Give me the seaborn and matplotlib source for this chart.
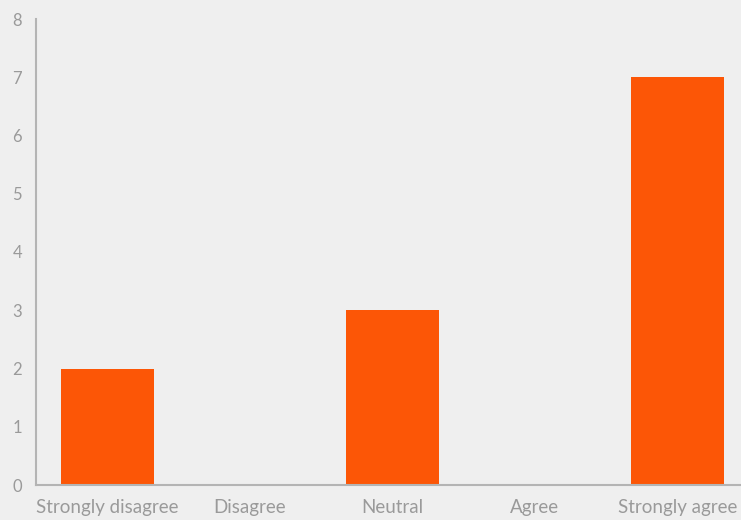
import matplotlib
matplotlib.use("Agg")
import matplotlib.pyplot as plt
import seaborn as sns
import pandas as pd

categories = ["Strongly disagree", "Disagree", "Neutral", "Agree", "Strongly agree"]
counts = [2, 0, 3, 0, 7]
yticks = [0, 1, 2, 3, 4, 5, 6, 7, 8]

sns.set_style("white")
plt.rcParams['font.family'] = ['Lato', 'DejaVu Sans']

BG = "#efefef"
BAR = "#fc5606"
TXT = "#9a9a9a"
AX = "#b4b4b4"

fig = plt.figure(figsize=(7.41, 5.2), dpi=100, facecolor=BG)
ax = fig.add_axes([36/741, 35/520, 712.5/741, 466/520])
ax.set_facecolor(BG)

df = pd.DataFrame({"cat": categories, "n": counts})
sns.barplot(data=df, x="cat", y="n", color=BAR, saturation=1, width=0.65,
            linewidth=0, edgecolor=BAR, ax=ax)

ax.set_xlim(-0.5, 4.5)
ax.set_ylim(0, 8)
ax.set_yticks(yticks)
ax.set_xlabel("")
ax.set_ylabel("")
for s in ["top", "right"]:
    ax.spines[s].set_visible(False)
for s in ["left", "bottom"]:
    ax.spines[s].set_color(AX)
    ax.spines[s].set_linewidth(1.5)
ax.tick_params(axis="both", length=0, colors=TXT)
ax.tick_params(axis="y", pad=10, labelsize=12)
ax.tick_params(axis="x", pad=10, labelsize=13.5)

fig.savefig("out.png", dpi=100, facecolor=BG)
